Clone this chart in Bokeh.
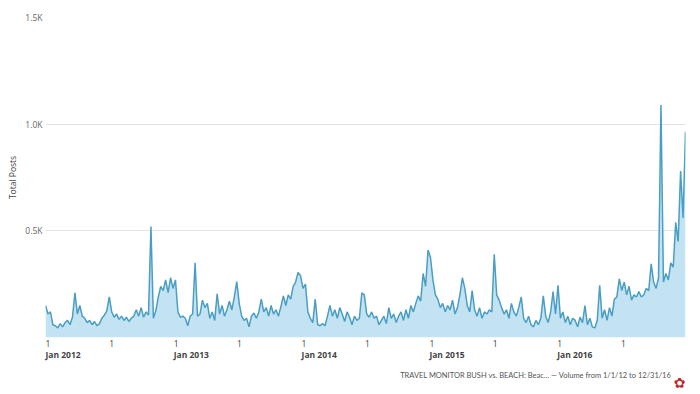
import pandas as pd
from bokeh.plotting import figure
from bokeh.models import (ColumnDataSource, Range1d, LinearAxis, FixedTicker,
                          CustomJSTickFormatter, Grid, Title)
from bokeh.embed import file_html
from bokeh.resources import INLINE

# weekly Total Posts, Jan 2012 .. Dec 2016
posts_2012 = [150, 110, 120, 60, 55, 45, 65, 50, 70, 80, 60, 95, 210, 110, 150, 100,
              90, 70, 80, 60, 75, 55, 65, 90, 105, 125, 190, 120, 95, 110, 85, 100,
              80, 95, 75, 90, 100, 130, 100, 140, 95, 120, 105, 520, 90, 125, 190, 240,
              220, 270, 210, 280]
posts_2013 = [230, 270, 120, 95, 100, 90, 55, 100, 110, 350, 100, 110, 175, 140, 160, 90,
              120, 80, 205, 110, 150, 100, 130, 170, 130, 190, 262, 160, 100, 80, 90, 50,
              100, 115, 90, 120, 180, 120, 140, 100, 150, 110, 130, 100, 145, 195, 150, 200,
              180, 240, 260, 305]
posts_2014 = [290, 230, 250, 120, 90, 70, 180, 60, 55, 65, 55, 100, 150, 100, 130, 90,
              140, 110, 75, 120, 95, 60, 100, 80, 90, 210, 200, 110, 95, 120, 90, 100,
              60, 80, 100, 65, 140, 90, 110, 70, 100, 120, 80, 130, 90, 150, 120, 160,
              195, 170, 300, 240]
posts_2015 = [410, 375, 270, 200, 180, 140, 160, 120, 150, 130, 175, 110, 140, 200, 280, 230,
              150, 120, 220, 130, 100, 140, 90, 120, 110, 130, 120, 390, 200, 175, 140, 110,
              130, 90, 160, 120, 100, 140, 190, 90, 70, 100, 60, 50, 80, 60, 90, 195,
              100, 70, 120, 215]
posts_2016 = [110, 245, 90, 120, 70, 100, 60, 90, 80, 50, 95, 70, 150, 60, 90, 50,
              45, 80, 245, 90, 130, 80, 140, 100, 180, 190, 275, 220, 260, 200, 240, 175,
              200, 190, 215, 190, 200, 230, 220, 345, 260, 230, 280, 1090, 260, 300, 270, 350,
              330, 540, 450, 780, 560, 965]
posts = posts_2012 + posts_2013 + posts_2014 + posts_2015 + posts_2016

dates = pd.date_range("2012-01-01", periods=len(posts), freq="7D")
half_year_ticks = pd.date_range("2012-01-01", "2016-07-01", freq="6MS")
year_ticks = pd.date_range("2012-01-01", "2016-01-01", freq="YS")
year_labels = ["Jan 2012", "Jan 2013", "Jan 2014", "Jan 2015", "Jan 2016"]
day_label = "1"
y_ticks = [500, 1000, 1500]
footer = "TRAVEL MONITOR BUSH vs. BEACH: Beac... \u2014 Volume from 1/1/12 to 12/31/16"
logo = "\u273f"


def ms(ts):
    return [t.value / 1e6 for t in ts]


x_ms = ms(dates)
src = ColumnDataSource(dict(x=x_ms, y=posts, base=[0] * len(posts)))

x0 = pd.Timestamp("2012-01-01").value / 1e6
x1 = pd.Timestamp("2017-01-01").value / 1e6

FONT = "Open Sans"

p = figure(width=700, height=394, output_backend="svg", toolbar_location=None,
           x_axis_type=None, y_axis_type=None,
           x_range=Range1d(x0, x1), y_range=Range1d(0, 1500),
           min_border_left=45, min_border_right=15, min_border_top=17, min_border_bottom=57)
p.outline_line_color = None
p.background_fill_color = "white"
p.border_fill_color = "white"

yax = LinearAxis(ticker=FixedTicker(ticks=y_ticks),
                 formatter=CustomJSTickFormatter(code="return (tick/1000).toFixed(1) + 'K';"),
                 axis_label="Total Posts")
yax.axis_line_color = None
yax.major_tick_line_color = None
yax.minor_tick_line_color = None
yax.major_tick_out = 0
yax.major_tick_in = 0
yax.minor_tick_out = 0
yax.major_label_text_font_size = "8.5px"
yax.major_label_text_color = "#666666"
yax.major_label_text_font = FONT
yax.major_label_standoff = 3
yax.axis_label_text_font_size = "8.5px"
yax.axis_label_text_font_style = "normal"
yax.axis_label_text_color = "#444444"
yax.axis_label_text_font = FONT
yax.axis_label_standoff = 4
p.add_layout(yax, "left")

p.add_layout(Grid(dimension=1, ticker=yax.ticker, grid_line_color="#e3e3e3", grid_line_width=1))

xax1 = LinearAxis(ticker=FixedTicker(ticks=ms(half_year_ticks)),
                  formatter=CustomJSTickFormatter(args=dict(lab=day_label), code="return lab;"))
xax2 = LinearAxis(ticker=FixedTicker(ticks=ms(year_ticks)),
                  formatter=CustomJSTickFormatter(args=dict(t=ms(year_ticks), labels=year_labels),
                                                  code="const i = t.indexOf(tick); return i >= 0 ? labels[i] : '';"))
for ax, style, so in ((xax1, "normal", 6), (xax2, "bold", 1)):
    ax.axis_line_color = None
    ax.major_tick_line_color = None
    ax.minor_tick_line_color = None
    ax.major_tick_out = 0
    ax.major_tick_in = 0
    ax.minor_tick_out = 0
    ax.major_label_orientation = -1e-6   # left-aligned labels starting at the tick
    ax.major_label_text_font_size = "8.5px"
    ax.major_label_text_font_style = style
    ax.major_label_text_color = "#444444"
    ax.major_label_text_font = FONT
    ax.major_label_standoff = so
    p.add_layout(ax, "below")

p.varea(x="x", y1="base", y2="y", source=src, fill_color="#c3e3f2", fill_alpha=1.0)
p.line(x="x", y="y", source=src, line_color="#4a9ec4", line_width=1.5)

p.add_layout(Title(text=footer, align="right", offset=14, standoff=0, text_font_size="7.5px",
                   text_font_style="normal", text_color="#555555", text_font="Lato"), "below")
p.add_layout(Title(text=logo, align="right", offset=0, standoff=-22, text_font_size="14px",
                   text_font_style="normal", text_color="#c0282d", text_font="DejaVu Sans"), "below")

open("out.html", "w").write(file_html(p, INLINE))
